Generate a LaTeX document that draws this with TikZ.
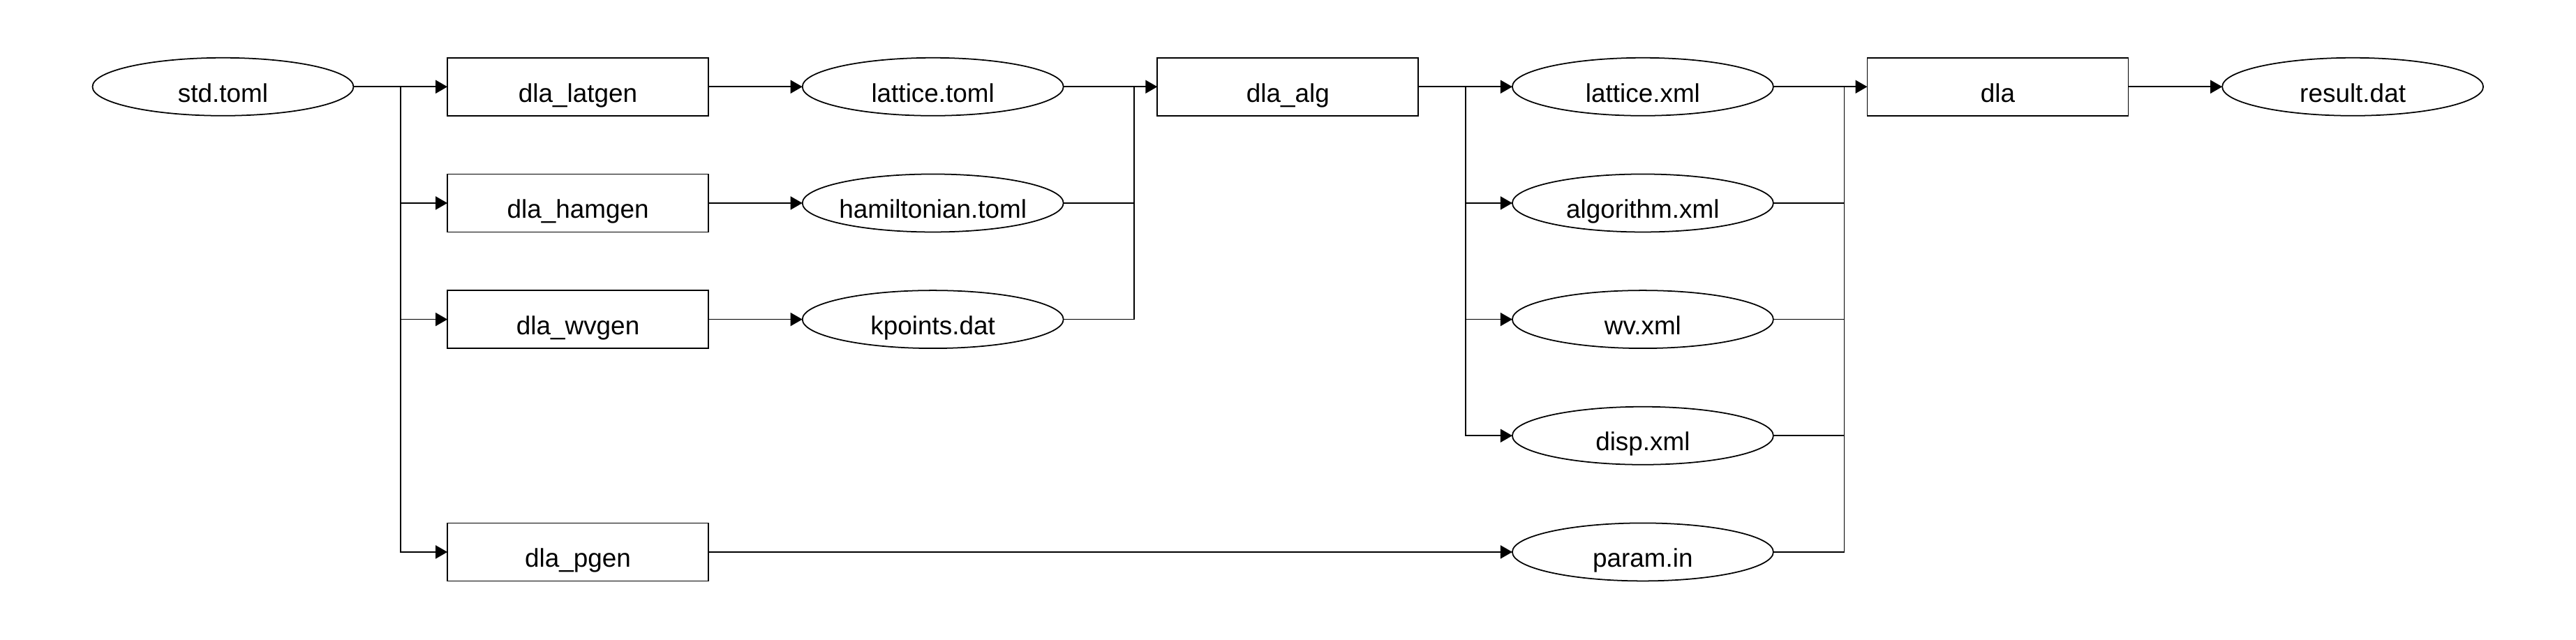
\documentclass[tikz,border=0pt]{standalone}
\usepackage{fontspec}
\setmainfont{Liberation Sans}
\usetikzlibrary{shapes.geometric,arrows.meta,positioning,calc}

\begin{document}
\begin{tikzpicture}[
    node distance=1.673cm and 2.692cm,
    line width=1pt,
    >={Triangle[length=0.34cm,width=0.38cm]},
    every node/.style={font=\fontsize{21}{25}\selectfont,text height=1.0cm,text depth=0.132cm,outer sep=0pt},
    box/.style={rectangle,draw,minimum width=7.48cm,minimum height=1.66cm,inner sep=0pt},
    file/.style={ellipse,draw,minimum width=7.48cm,minimum height=1.66cm,inner xsep=-0.3cm,inner ysep=0pt},
    arrow/.style={->},
    link/.style={-}
]
    \useasboundingbox (-6.39,-15.834) rectangle (67.43,2.486);

    \node[file] (std) {std.toml};
    \node[box,right=of std] (latgen) {dla\_latgen};
    \node[box,below=of latgen] (hamgen) {dla\_hamgen};
    \node[box,below=of hamgen] (wvgen) {dla\_wvgen};
    \node[box,below=5.006cm of wvgen] (pgen) {dla\_pgen};

    \node[file,right=of latgen] (lattoml) {lattice.toml};
    \node[file,below=of lattoml] (hamtoml) {hamiltonian.toml};
    \node[file,below=of hamtoml] (kpoints) {kpoints.dat};

    \node[box,right=of lattoml] (alg) {dla\_alg};

    \node[file,right=of alg] (latxml) {lattice.xml};
    \node[file,below=of latxml] (algxml) {algorithm.xml};
    \node[file,below=of algxml] (wvxml) {wv.xml};
    \node[file,below=of wvxml] (dispxml) {disp.xml};
    \node[file,below=of dispxml] (param) {param.in};

    \node[box,right=of latxml] (dla) {dla};
    \node[file,right=of dla] (result) {result.dat};

    \coordinate (split1) at ($(std.east)!0.5!(latgen.west)$);
    \coordinate (merge1) at ($(alg.west)+(-0.66,0)$);
    \coordinate (split2) at ($(alg.east)!0.5!(latxml.west)$);
    \coordinate (merge2) at ($(dla.west)+(-0.66,0)$);

    \draw[arrow] (std) -- (latgen);
    \draw[arrow] (split1) |- (hamgen);
    \draw[arrow] (split1) |- (wvgen);
    \draw[arrow] (split1) |- (pgen);

    \draw[arrow] (latgen) -- (lattoml);
    \draw[arrow] (hamgen) -- (hamtoml);
    \draw[arrow] (wvgen) -- (kpoints);
    \draw[arrow] (pgen) -- (param);

    \draw[arrow] (lattoml) -- (alg);
    \draw[link] (hamtoml) -| (merge1);
    \draw[link] (kpoints) -| (merge1);

    \draw[arrow] (alg) -- (latxml);
    \draw[arrow] (split2) |- (algxml);
    \draw[arrow] (split2) |- (wvxml);
    \draw[arrow] (split2) |- (dispxml);

    \draw[arrow] (latxml) -- (dla);
    \draw[link] (algxml) -| (merge2);
    \draw[link] (wvxml) -| (merge2);
    \draw[link] (dispxml) -| (merge2);
    \draw[link] (param) -| (merge2);

    \draw[arrow] (dla) -- (result);
\end{tikzpicture}
\end{document}
